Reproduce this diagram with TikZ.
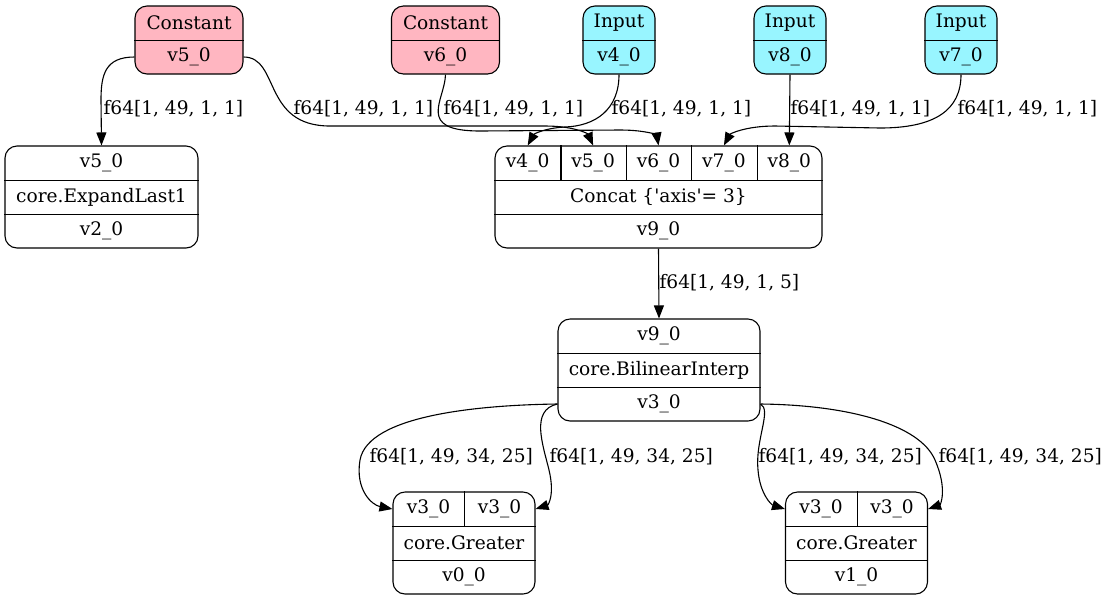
\documentclass[tikz,border=0pt]{standalone}
\usepackage{fontspec}
\setmainfont{DejaVu Serif}
\usetikzlibrary{arrows.meta}
\definecolor{constpink}{RGB}{255,182,193}
\definecolor{inputcyan}{RGB}{152,245,255}

\begin{document}
\begin{tikzpicture}[x=0.5pt, y=-0.5pt, font=\fontsize{9.3}{11}\selectfont, line width=0.55pt,
  box/.style={draw=black, rounded corners=6pt, inner sep=0pt},
  cell/.style={inner sep=0pt, minimum height=17pt},
  edge/.style={-{Triangle[length=6.5pt,width=5pt]}, black},
  lbl/.style={anchor=west, inner sep=0pt}]
\useasboundingbox (0,0) rectangle (1108,601);
% source nodes
\node[box, fill=constpink, minimum width=54pt, minimum height=34pt] (C5) at (189,40) {};
\node[cell, minimum width=54pt] (C5t) at (189,23) {Constant};
\node[cell, minimum width=54pt] (C5v) at (189,57) {v5\_0};
\node[box, fill=constpink, minimum width=54pt, minimum height=34pt] (C6) at (445.5,40) {};
\node[cell, minimum width=54pt] (C6t) at (445.5,23) {Constant};
\node[cell, minimum width=54pt] (C6v) at (445.5,57) {v6\_0};
\node[box, fill=inputcyan, minimum width=36pt, minimum height=34pt] (I4) at (619,40) {};
\node[cell, minimum width=36pt] (I4t) at (619,23) {Input};
\node[cell, minimum width=36pt] (I4v) at (619,57) {v4\_0};
\node[box, fill=inputcyan, minimum width=36pt, minimum height=34pt] (I8) at (790,40) {};
\node[cell, minimum width=36pt] (I8t) at (790,23) {Input};
\node[cell, minimum width=36pt] (I8v) at (790,57) {v8\_0};
\node[box, fill=inputcyan, minimum width=36pt, minimum height=34pt] (I7) at (961,40) {};
\node[cell, minimum width=36pt] (I7t) at (961,23) {Input};
\node[cell, minimum width=36pt] (I7v) at (961,57) {v7\_0};
\foreach \n in {C5t,C6t,I4t,I8t,I7t}
  \draw (\n.south west) -- (\n.south east);
% expand
\node[box, minimum width=96.5pt, minimum height=51pt] (E) at (101.5,197) {};
\node[cell, minimum width=96.5pt] (Ein) at (101.5,163) {v5\_0};
\node[cell, minimum width=96.5pt] (Eop) at (101.5,197) {core.ExpandLast1};
\node[cell, minimum width=96.5pt] (Eout) at (101.5,231) {v2\_0};
% concat
\node[box, minimum width=163.5pt, minimum height=51pt] (K) at (658.5,197) {};
\node[cell, minimum width=32.7pt] (K4) at (527.7,163) {v4\_0};
\node[cell, minimum width=32.7pt] (K5) at (593.1,163) {v5\_0};
\node[cell, minimum width=32.7pt] (K6) at (658.5,163) {v6\_0};
\node[cell, minimum width=32.7pt] (K7) at (723.9,163) {v7\_0};
\node[cell, minimum width=32.7pt] (K8) at (789.3,163) {v8\_0};
\node[cell, minimum width=163.5pt] (Kop) at (658.5,197) {Concat \{\textquotesingle axis\textquotesingle= 3\}};
\node[cell, minimum width=163.5pt] (Kout) at (658.5,231) {v9\_0};
\foreach \n in {K4,K5,K6,K7}
  \draw (\n.north east) -- (\n.south east);
% bilinear
\node[box, minimum width=101pt, minimum height=51pt] (B) at (659,370) {};
\node[cell, minimum width=101pt] (Bin) at (659,336) {v9\_0};
\node[cell, minimum width=101pt] (Bop) at (659,370) {core.BilinearInterp};
\node[cell, minimum width=101pt] (Bout) at (659,404) {v3\_0};
% greater
\node[box, minimum width=71pt, minimum height=51pt] (G0) at (464,543) {};
\node[cell, minimum width=35.5pt] (G0a) at (428.5,509) {v3\_0};
\node[cell, minimum width=35.5pt] (G0b) at (499.5,509) {v3\_0};
\node[cell, minimum width=71pt] (G0op) at (464,543) {core.Greater};
\node[cell, minimum width=71pt] (G0out) at (464,577) {v0\_0};
\node[box, minimum width=71pt, minimum height=51pt] (G1) at (856.5,543) {};
\node[cell, minimum width=35.5pt] (G1a) at (821,509) {v3\_0};
\node[cell, minimum width=35.5pt] (G1b) at (892,509) {v3\_0};
\node[cell, minimum width=71pt] (G1op) at (856.5,543) {core.Greater};
\node[cell, minimum width=71pt] (G1out) at (856.5,577) {v1\_0};
\foreach \n in {G0a,G1a}
  \draw (\n.north east) -- (\n.south east);
\foreach \a/\b in {Ein/Ein,Eop/Eop,K4/K8,Kop/Kop,Bin/Bin,Bop/Bop,G0a/G0b,G0op/G0op,G1a/G1b,G1op/G1op}
  \draw (\a.south west) -- (\b.south east);
% edges
\draw[edge] (C5v.west) .. controls (105,57) and (101,75) .. (101,100) -- (Ein.north);
\draw[edge] (C5v.east) .. controls (280,57) and (262,126) .. (330,126) -- (545,126) .. controls (575,126) and (588,134) .. (K5.north);
\draw[edge] (C6v.south) .. controls (445,100) and (415,131) .. (480,131) -- (620,130) .. controls (648,130) and (657,136) .. (K6.north);
\draw[edge] (I4v.south) .. controls (619,110) and (595,126) .. (565,127) .. controls (545,128) and (534,134) .. (K4.north);
\draw[edge] (I8v.south) -- (K8.north);
\draw[edge] (I7v.south) .. controls (961,110) and (935,128) .. (880,128) -- (775,126) .. controls (745,126) and (730,134) .. (K7.north);
\draw[edge] (Kout.south) -- (Bin.north);
\draw[edge] (Bout.west) .. controls (480,405) and (368,415) .. (360,460) .. controls (355,490) and (372,505) .. (G0a.west);
\draw[edge] (Bout.west) .. controls (530,410) and (543,445) .. (549,470) .. controls (555,495) and (548,505) .. (G0b.east);
\draw[edge] (Bout.east) .. controls (772,410) and (755,440) .. (758,470) .. controls (760,495) and (772,505) .. (G1a.west);
\draw[edge] (Bout.east) .. controls (850,405) and (920,425) .. (935,460) .. controls (948,490) and (940,505) .. (G1b.east);
% labels
\node[lbl] (L1) at (103,109) {f64[1, 49, 1, 1]};
\node[lbl] (L2) at (293,109) {f64[1, 49, 1, 1]};
\node[lbl] (L3) at (443,109) {f64[1, 49, 1, 1]};
\node[lbl] (L4) at (611,109) {f64[1, 49, 1, 1]};
\node[lbl] (L5) at (790,109) {f64[1, 49, 1, 1]};
\node[lbl] (L6) at (957,109) {f64[1, 49, 1, 1]};
\node[lbl] (L7) at (659,283) {f64[1, 49, 1, 5]};
\node[lbl] (L8) at (369,457) {f64[1, 49, 34, 25]};
\node[lbl] (L9) at (549,457) {f64[1, 49, 34, 25]};
\node[lbl] (L10) at (758,457) {f64[1, 49, 34, 25]};
\node[lbl] (L11) at (938,457) {f64[1, 49, 34, 25]};
\end{tikzpicture}
\end{document}
